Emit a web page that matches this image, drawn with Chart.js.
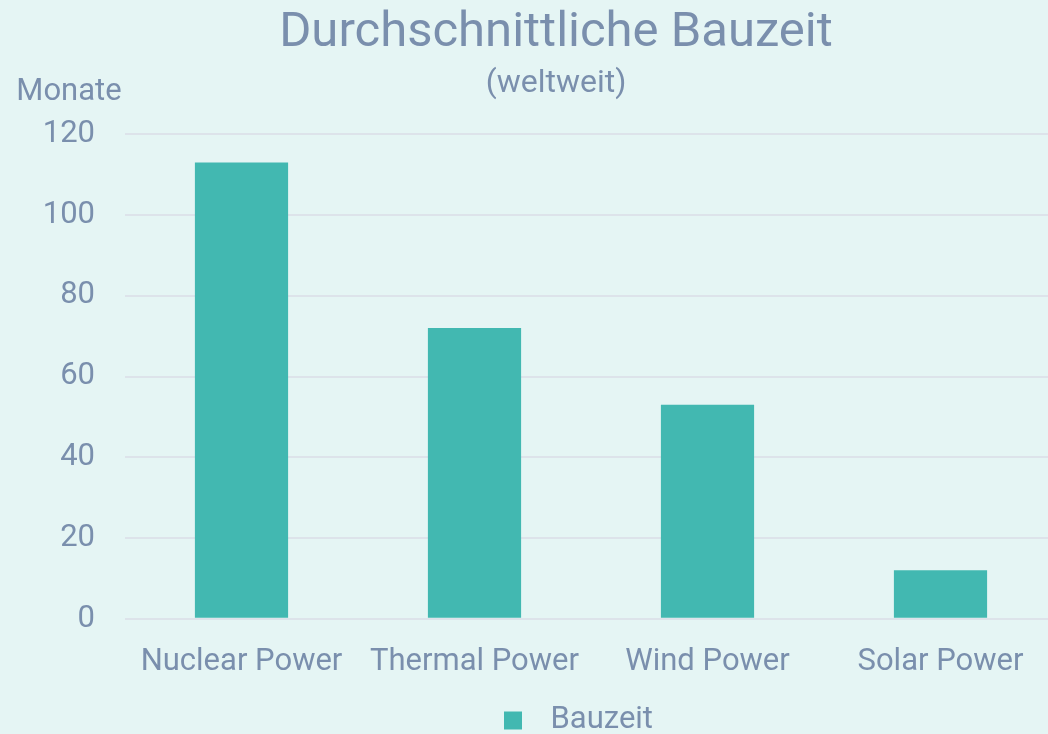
<!DOCTYPE html>
<html>
<head>
<meta charset="utf-8">
<script src="https://cdn.jsdelivr.net/npm/chart.js@4/dist/chart.umd.min.js"></script>
<style>
  html, body { margin: 0; padding: 0; background: #e5f5f4; overflow: hidden; }
  #wrap { width: 1048px; height: 734px; overflow: hidden; }
</style>
</head>
<body>
<div id="wrap"><canvas id="c" width="1112" height="734"></canvas></div>
<script>
const categories = ['Nuclear Power', 'Thermal Power', 'Wind Power', 'Solar Power']
const bauzeit = [113, 72, 53, 12]
const yTicks = [0, 20, 40, 60, 80, 100, 120]

const textColor = '#7a8fad'
const barColor = '#42b8b1'
const font = 'Roboto'

// legend marker: small square sitting right of the image centre
const marker = document.createElement('canvas')
marker.width = 50
marker.height = 24
const mctx = marker.getContext('2d')
mctx.fillStyle = barColor
mctx.fillRect(32, 3, 18, 18)

// y-axis title drawn flat above the tick column
const unitLabel = {
  id: 'unitLabel',
  afterLayout (chart) {
    // let the tick labels run past the layout padding (they are clipped to the scale box)
    chart.scales.y.left = 0
  },
  afterDraw (chart) {
    const { ctx, chartArea } = chart
    ctx.save()
    ctx.fillStyle = textColor
    ctx.font = `31px ${font}`
    ctx.textAlign = 'center'
    ctx.textBaseline = 'alphabetic'
    ctx.fillText('Monate', chartArea.left - 56, chartArea.top - 34)
    ctx.restore()
  }
}

const bg = {
  id: 'bg',
  beforeDraw (chart) {
    const { ctx } = chart
    ctx.save()
    ctx.fillStyle = '#e5f5f4'
    ctx.fillRect(0, 0, chart.width, chart.height)
    ctx.restore()
  }
}

new Chart(document.getElementById('c'), {
  type: 'bar',
  data: {
    labels: categories,
    datasets: [{
      label: 'Bauzeit',
      data: bauzeit,
      backgroundColor: barColor,
      borderWidth: 0,
      categoryPercentage: 0.8,
      barPercentage: 0.5,
      pointStyle: marker
    }]
  },
  options: {
    responsive: false,
    animation: false,
    layout: { padding: { left: 55, right: 55, top: 4, bottom: -12 } },
    plugins: {
      title: {
        display: true,
        text: 'Durchschnittliche Bauzeit',
        color: textColor,
        font: { family: font, size: 49, weight: 'normal' },
        padding: { top: 0, bottom: 0 }
      },
      subtitle: {
        display: true,
        text: '(weltweit)',
        color: textColor,
        font: { family: font, size: 32, weight: 'normal' },
        padding: { top: 2, bottom: 31 }
      },
      legend: {
        position: 'bottom',
        labels: {
          color: textColor,
          font: { family: font, size: 31 },
          usePointStyle: true,
          pointStyleWidth: 76,
          boxHeight: 18,
          padding: 7
        }
      },
      tooltip: { enabled: false }
    },
    scales: {
      x: {
        grid: { display: false },
        border: { display: false },
        ticks: { color: textColor, font: { family: font, size: 31 }, padding: 17 }
      },
      y: {
        min: 0,
        max: 120,
        afterBuildTicks (scale) {
          scale.ticks = yTicks.map(v => ({ value: v }))
        },
        afterFit (scale) {
          scale.width = 70
        },
        grid: { color: '#dde3ea', lineWidth: 2, drawTicks: false },
        border: { display: false },
        ticks: { color: textColor, font: { family: font, size: 31 }, padding: 30 }
      }
    }
  },
  plugins: [bg, unitLabel]
})
</script>
</body>
</html>
